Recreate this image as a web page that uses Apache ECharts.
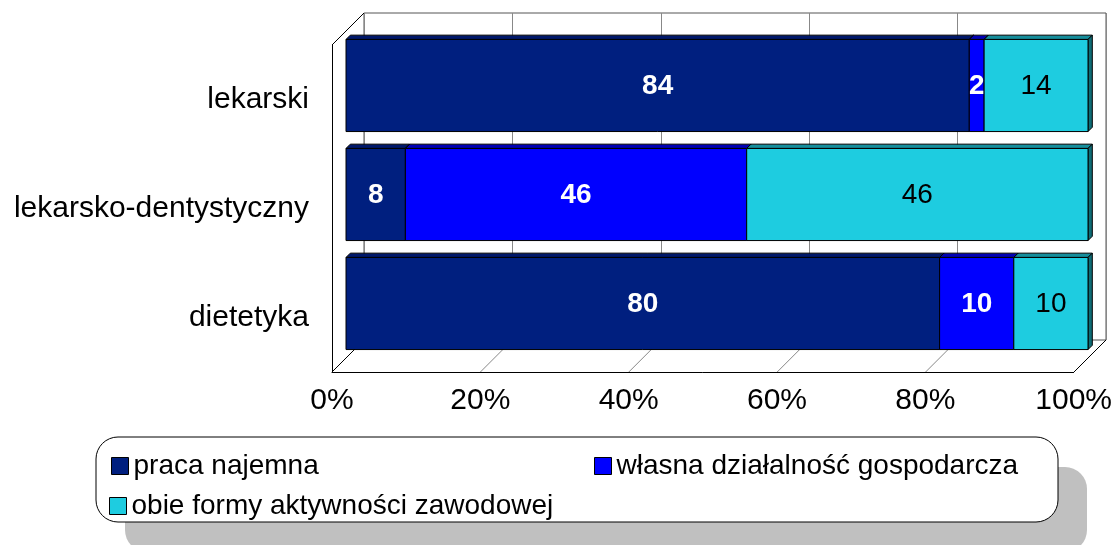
<!DOCTYPE html>
<html><head><meta charset="utf-8">
<script src="https://cdn.jsdelivr.net/npm/echarts@6/dist/echarts.min.js"></script>
<style>html,body{margin:0;padding:0;background:#fff}#c{width:1115px;height:545px}</style>
</head><body><div id="c"></div>
<script>
// ---- data ----
const categories = ['lekarski', 'lekarsko-dentystyczny', 'dietetyka'];
const pracaNajemna = [84, 8, 80];
const wlasnaDzialalnosc = [2, 46, 10];
const obieFormy = [14, 46, 10];
const seriesNames = ['praca najemna', 'własna działalność gospodarcza', 'obie formy aktywności zawodowej'];
const xTicks = [0, 20, 40, 60, 80, 100];

// ---- layout / style ----
const FONT = 'Liberation Sans, Arial, sans-serif';
const G = {left: 346, top: 31, width: 742, height: 327}; // bar front plane
const DF = 14;   // offset to front plane of the box
const DB = 18;   // offset to back wall
const BD = 4.3;  // bar depth
const styles = [
  {front: '#001F7F', top: '#00186A', side: '#001050', label: '#fff', weight: 'bold'},
  {front: '#0000FF', top: '#0000B4', side: '#000090', label: '#fff', weight: 'bold'},
  {front: '#1ECCE0', top: '#158E9C', side: '#0E6C76', label: '#000', weight: 'normal'}
];

const chart = echarts.init(document.getElementById('c'), null, {renderer: 'canvas'});
const valueSets = [pracaNajemna, wlasnaDzialalnosc, obieFormy];
const cum = categories.map(() => 0);
const segSeries = valueSets.map((vals, si) => {
  const data = vals.map((v, ci) => { const s = cum[ci]; cum[ci] += v; return [s, cum[ci], ci, v]; });
  const st = styles[si];
  return {
    type: 'custom', name: seriesNames[si], xAxisIndex: 0, yAxisIndex: 0,
    itemStyle: {color: st.front, borderColor: '#000', borderWidth: 1},
    encode: {x: [0, 1], y: 2},
    data: data,
    renderItem: function (params, api) {
      const a = api.coord([api.value(0), api.value(2)]);
      const b = api.coord([api.value(1), api.value(2)]);
      const h = api.size([0, 1])[1] * 0.845;
      const x0 = a[0], x1 = b[0], yT = a[1] - h / 2, yB = a[1] + h / 2;
      return {type: 'group', children: [
        {type: 'polygon', shape: {points: [[x0, yT], [x0 + BD, yT - BD], [x1 + BD, yT - BD], [x1, yT]]},
          style: {fill: st.top, stroke: '#000', lineWidth: 1}},
        {type: 'polygon', shape: {points: [[x1, yT], [x1 + BD, yT - BD], [x1 + BD, yB - BD], [x1, yB]]},
          style: {fill: st.side, stroke: '#000', lineWidth: 1}},
        {type: 'rect', shape: {x: x0, y: yT, width: x1 - x0, height: h},
          style: {fill: st.front, stroke: '#000', lineWidth: 1}},
        {type: 'text', x: (x0 + x1) / 2, y: a[1] + 1,
          style: {text: String(api.value(3)), fill: st.label, fontSize: 28, fontWeight: st.weight,
            fontFamily: FONT, align: 'center', verticalAlign: 'middle'}}
      ]};
    }
  };
});

const wallSeries = {
  type: 'custom', xAxisIndex: 0, yAxisIndex: 0, z: 1, silent: true,
  data: [[0, 0]],
  renderItem: function (params, api) {
    const cs = params.coordSys;
    const top = cs.y, bottom = cs.y + cs.height;
    const children = [];
    xTicks.forEach(function (v, i) {
      const x = api.coord([v, 0])[0];
      const edge = (i === 0 || i === xTicks.length - 1);
      children.push({type: 'line', shape: {x1: x - DF, y1: bottom + DF, x2: x + DB, y2: bottom - DB},
        style: {stroke: edge ? '#000' : '#888', lineWidth: 1}});
    });
    children.push({type: 'line', shape: {x1: cs.x - DF, y1: top + DF, x2: cs.x + DB, y2: top - DB},
      style: {stroke: '#000', lineWidth: 1}});
    return {type: 'group', children: children};
  }
};

const legendCommon = {
  icon: 'rect', itemWidth: 17, itemHeight: 17, itemGap: 0, selectedMode: false,
  itemStyle: {borderColor: '#000', borderWidth: 1},
  textStyle: {fontSize: 28, color: '#000', fontFamily: FONT, padding: [0, 0, 0, 0]}
};

chart.setOption({
  animation: false,
  backgroundColor: '#fff',
  grid: [
    {left: G.left, top: G.top, width: G.width, height: G.height},
    {left: G.left - DF, top: G.top + DF, width: G.width, height: G.height},
    {left: G.left + DB, top: G.top - DB, width: G.width, height: G.height,
      show: true, borderColor: '#555', borderWidth: 1, backgroundColor: 'transparent'}
  ],
  xAxis: [
    {gridIndex: 0, type: 'value', min: 0, max: 100, interval: 20, show: false},
    {gridIndex: 1, type: 'value', min: 0, max: 100, interval: 20,
      axisLine: {show: true, lineStyle: {color: '#000', width: 1}}, axisTick: {show: false},
      splitLine: {show: false},
      axisLabel: {formatter: function (v) { return v + '%'; }, fontSize: 30, color: '#000',
        fontFamily: FONT, margin: 14, showMinLabel: true, showMaxLabel: true}},
    {gridIndex: 2, type: 'value', min: 0, max: 100, interval: 20,
      axisLine: {show: false}, axisTick: {show: false}, axisLabel: {show: false},
      splitLine: {show: true, lineStyle: {color: '#888', width: 1}}}
  ],
  yAxis: [
    {gridIndex: 0, type: 'category', data: categories, inverse: true, show: false},
    {gridIndex: 1, type: 'category', data: categories, inverse: true,
      axisLine: {show: true, lineStyle: {color: '#000', width: 1}}, axisTick: {show: false},
      axisLabel: {fontSize: 30, color: '#000', fontFamily: FONT, margin: 23}},
    {gridIndex: 2, type: 'category', data: categories, inverse: true, show: false}
  ],
  legend: [
    Object.assign({data: [seriesNames[0]], left: 106, top: 447}, legendCommon),
    Object.assign({data: [seriesNames[1]], left: 589, top: 447}, legendCommon),
    Object.assign({data: [seriesNames[2]], left: 104, top: 487}, legendCommon)
  ],
  graphic: [
    {type: 'rect', z: 0, shape: {x: 125, y: 467, width: 962, height: 85, r: 22}, style: {fill: '#C0C0C0'}},
    {type: 'rect', z: 1, shape: {x: 96, y: 437, width: 962, height: 85, r: 22},
      style: {fill: '#fff', stroke: '#000', lineWidth: 1}}
  ],
  series: [wallSeries].concat(segSeries)
});
</script>
</body></html>
